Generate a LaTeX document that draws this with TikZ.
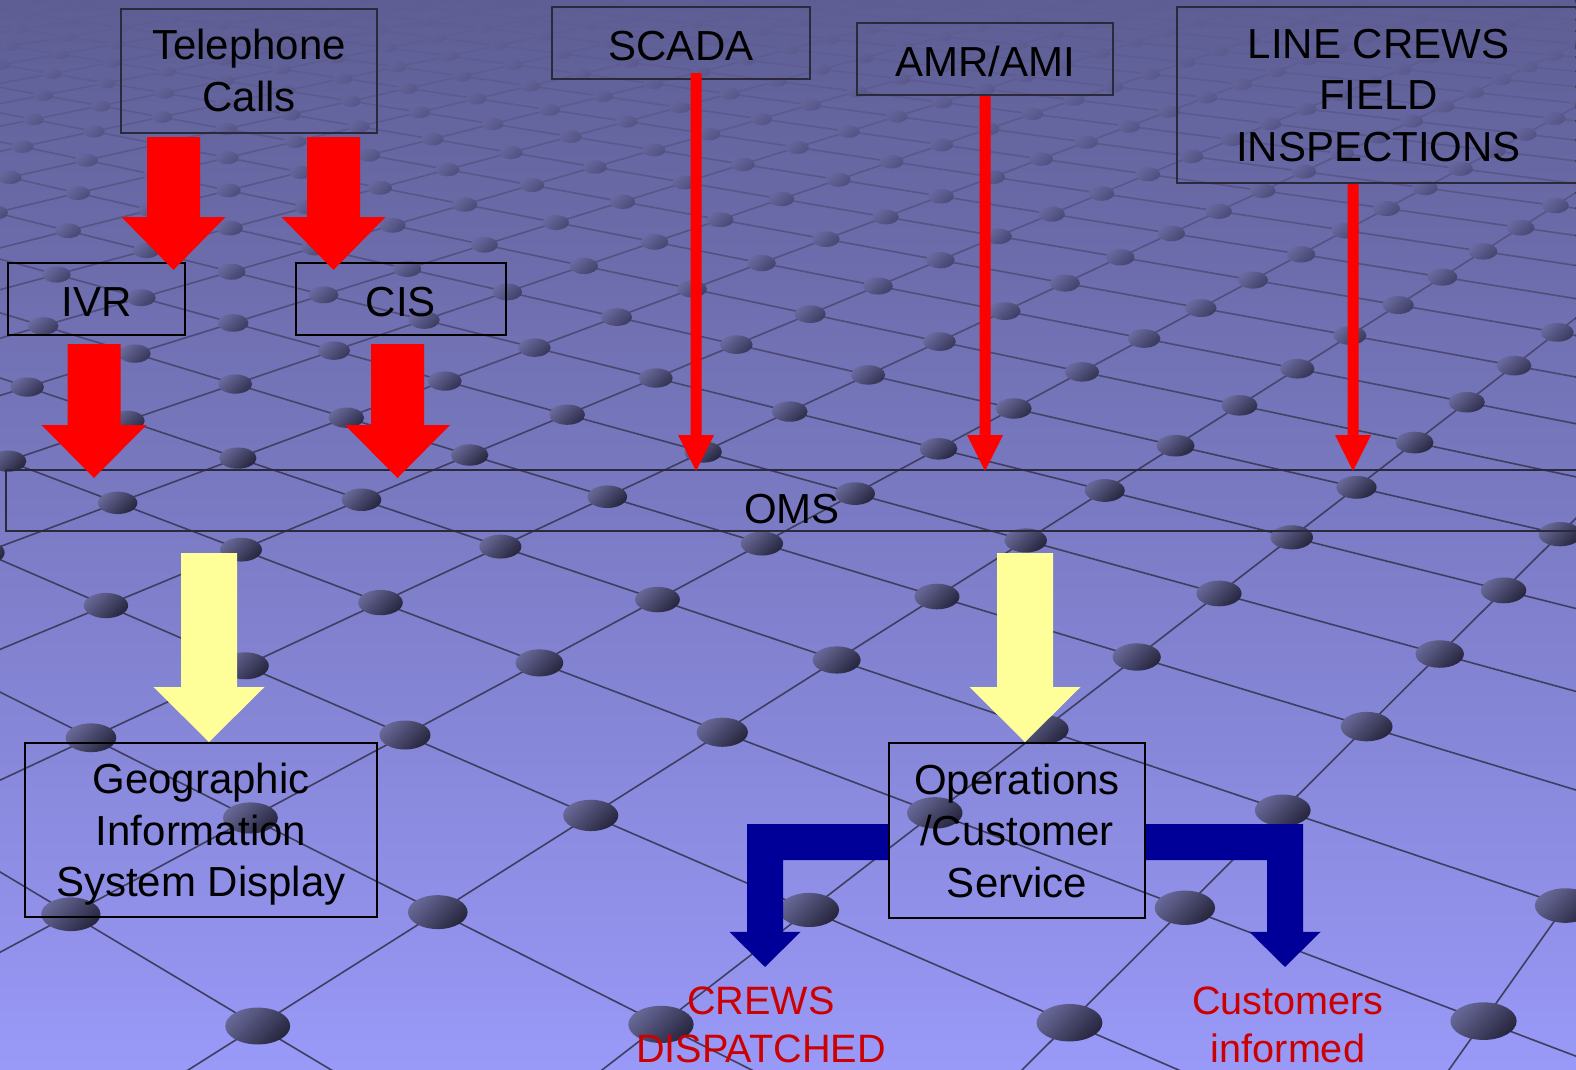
\documentclass[tikz,border=0pt]{standalone}
\usepackage{fontspec}
\setmainfont{Liberation Sans}
\usetikzlibrary{calc,fadings}

\definecolor{bgtop}{RGB}{94,94,148}
\definecolor{bgbot}{RGB}{153,153,248}
\definecolor{gridcol}{RGB}{62,62,96}
\definecolor{dotlight}{RGB}{104,104,152}
\definecolor{dotdark}{RGB}{38,38,62}
\definecolor{boxline}{RGB}{42,42,60}
\definecolor{flowred}{RGB}{255,0,0}
\definecolor{flowyellow}{RGB}{255,255,153}
\definecolor{flowblue}{RGB}{0,0,153}
\definecolor{outred}{RGB}{204,0,0}

\newcommand{\boxfont}{\fontsize{42}{51.5}\selectfont}
\newcommand{\outfont}{\fontsize{39.6}{48}\selectfont}

\tikzfading[name=fadedown, top color=transparent!0, bottom color=transparent!100]

% point (i,j) of the floor grid
\newcommand{\floorpt}[2]{%
  \pgfmathsetmacro{\gw}{1-0.0747*(#1)-0.0696*(#2)}%
  \pgfmathsetmacro{\gx}{(141.6*(#1)-172*(#2)+405)/\gw}%
  \pgfmathsetmacro{\gy}{(19.5*(#1)+26*(#2)+735)/\gw}}

\newcommand{\fatdown}[6]{%
  \fill[#1] let \p1=#2, \p2=#3 in
    (\x1-#4pt,\y1) -- (\x1+#4pt,\y1) -- (\x1+#4pt,\y2+#6pt)
    -- (\x1+#5pt,\y2+#6pt) -- (\x1,\y2) -- (\x1-#5pt,\y2+#6pt)
    -- (\x1-#4pt,\y2+#6pt) -- cycle;}

\newcommand{\elbowdown}[7]{%
  \fill[#1] let \p1=#2, \p2=#3 in
    (\x1,{\y1+#4pt}) -- ({\x2+(#7)*#4pt},{\y1+#4pt}) -- ({\x2+(#7)*#4pt},{\y2+#6pt})
    -- ({\x2+(#7)*#5pt},{\y2+#6pt}) -- (\x2,\y2) -- ({\x2-(#7)*#5pt},{\y2+#6pt})
    -- ({\x2-(#7)*#4pt},{\y2+#6pt}) -- ({\x2-(#7)*#4pt},{\y1-#4pt})
    -- (\x1,{\y1-#4pt}) -- cycle;}

\begin{document}
\begin{tikzpicture}[x=1pt,y=-1pt,
    topbox/.style={draw=boxline, line width=2pt, inner sep=0pt, align=center,
      text depth=0pt, font=\boxfont},
    lowbox/.style={topbox, draw=black},
    oneline/.style={text height=34pt},
    outtext/.style={inner sep=0pt, align=center, text depth=0pt,
      text=outred, font=\outfont},
    floorline/.style={draw=gridcol, line width=1.6pt},
    floordot/.style={top color=dotlight, bottom color=dotdark, shading angle=45}]
  \useasboundingbox (0,0) rectangle (1576,1069);
  \clip (0,0) rectangle (1576,1069);
  \shade[top color=bgtop, bottom color=bgbot] (0,0) rectangle (1576,1069);

  \foreach \j in {-30,...,4}{
    \floorpt{-30}{\j}\let\ax\gx\let\ay\gy
    \floorpt{6}{\j}
    \draw[floorline] (\ax,\ay) -- (\gx,\gy);
  }
  \foreach \i in {-30,...,6}{
    \floorpt{\i}{-30}\let\ax\gx\let\ay\gy
    \floorpt{\i}{4}
    \draw[floorline] (\ax,\ay) -- (\gx,\gy);
  }
  \foreach \i in {-30,...,6}{
    \foreach \j in {-30,...,4}{
      \floorpt{\i}{\j}
      \pgfmathtruncatemacro{\inside}{(\gx>-80)&&(\gx<1660)&&(\gy>-80)&&(\gy<1150)}
      \ifnum\inside=1
        \shade[floordot] (\gx,\gy) ellipse ({25.5/\gw} and {14.5/\gw});
      \fi
    }
  }
  \shade[top color=bgtop, bottom color=bgbot!43!bgtop, path fading=fadedown]
    (0,0) rectangle (1576,460);

  \node[topbox, minimum width=256pt, minimum height=124pt] (tel) at (249,70.5) {Telephone\\Calls};
  \node[topbox, oneline, minimum width=258pt, minimum height=72pt] (scada) at (681,43) {SCADA};
  \node[topbox, oneline, minimum width=256pt, minimum height=72pt] (amr) at (985,59) {AMR/AMI};
  \node[topbox, minimum width=403pt, minimum height=176pt] (crews) at (1378.5,95) {LINE CREWS\\FIELD\\INSPECTIONS};
  \node[lowbox, oneline, minimum width=177pt, minimum height=72pt] (ivr) at (96.5,299) {IVR};
  \node[lowbox, oneline, minimum width=210pt, minimum height=72pt] (cis) at (401,299) {CIS};
  \node[topbox, text height=46pt, minimum width=1572pt, minimum height=61pt] (oms) at (792,500.5) {OMS};
  \node[lowbox, minimum width=352pt, minimum height=174pt] (gis) at (201,830) {Geographic\\Information\\System Display};
  \node[lowbox, minimum width=256pt, minimum height=175pt] (ops) at (1017,830.5) {Operations\\/Customer\\Service};
  \node[outtext] (crewsout) at (761,1025) {CREWS\\DISPATCHED};
  \node[outtext] (custout) at (1288,1025) {Customers\\informed};

  \fatdown{flowred}{($(tel.south)+(-75.5,3.5)$)}{($(ivr.north)+(0,8)$)}{26.5}{52}{53}
  \fatdown{flowred}{($(tel.south)+(84.5,3.5)$)}{($(cis.north)+(0,8)$)}{26.5}{52}{53}
  \fatdown{flowred}{($(ivr.south)+(-2.5,8)$)}{($(oms.north)+(0,9)$)}{26.5}{52.5}{53}
  \fatdown{flowred}{($(cis.south)+(-3.5,8)$)}{($(oms.north)+(0,9)$)}{26.5}{52.5}{53}
  \fatdown{flowred}{($(scada.south)+(15,-7)$)}{($(oms.north)+(0,2)$)}{5.5}{18}{36}
  \fatdown{flowred}{(amr.south)}{($(oms.north)+(0,2)$)}{5.5}{18}{36}
  \fatdown{flowred}{($(crews.south)+(-25.5,0)$)}{($(oms.north)+(0,2)$)}{5.5}{18}{36}
  \fatdown{flowyellow}{($(gis.north |- oms.south)+(8,21)$)}{(gis.north)}{28}{55.5}{55}
  \fatdown{flowyellow}{($(ops.north |- oms.south)+(8,21)$)}{(ops.north)}{28}{55.5}{55}
  \elbowdown{flowblue}{($(ops.west)+(0,11.5)$)}{($(crewsout.north)+(4,-20)$)}{18}{35.5}{35}{-1}
  \elbowdown{flowblue}{($(ops.east)+(0,11.5)$)}{($(custout.north)+(-3,-20)$)}{18}{35.5}{35}{1}
\end{tikzpicture}
\end{document}
